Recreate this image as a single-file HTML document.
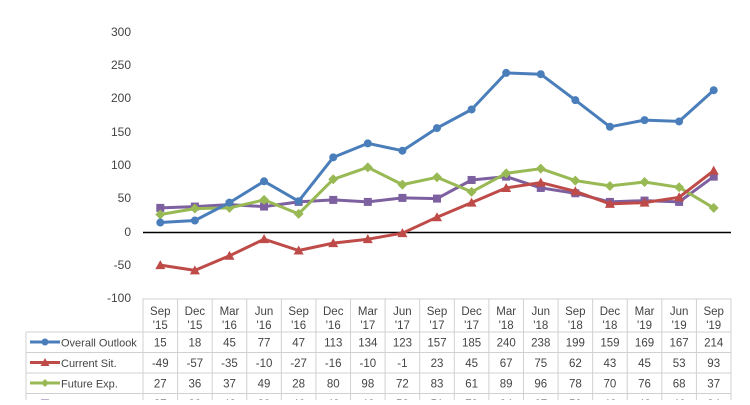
<!DOCTYPE html>
<html><head><style>
body{margin:0;background:#fff;}
svg text{font-family:"Liberation Sans",sans-serif;fill:#444;}
</style></head><body>
<svg width="750" height="400" viewBox="0 0 750 400" xmlns="http://www.w3.org/2000/svg">
<g font-size="12" text-anchor="end">
<text x="131" y="36">300</text>
<text x="131" y="69">250</text>
<text x="131" y="102">200</text>
<text x="131" y="136">150</text>
<text x="131" y="169">100</text>
<text x="131" y="202">50</text>
<text x="131" y="236">0</text>
<text x="131" y="269">-50</text>
<text x="131" y="302">-100</text>
</g>
<line x1="143" y1="232.5" x2="731" y2="232.5" stroke="#000" stroke-width="1.5"/>
<g id="tbl" stroke="#d0d0d0" stroke-width="1" fill="none">
<rect x="143" y="299" width="588" height="110"/>
<line x1="26" y1="332" x2="731" y2="332"/>
<line x1="26" y1="352.5" x2="731" y2="352.5"/>
<line x1="26" y1="373" x2="731" y2="373"/>
<line x1="26" y1="393.5" x2="731" y2="393.5"/>
<line x1="26" y1="332" x2="26" y2="400"/>
</g>
<g id="cols"></g>
<g font-size="11" id="lbl">
<line x1="30" y1="342" x2="60" y2="342" stroke="#4a7ebb" stroke-width="3"/><circle cx="45" cy="342" r="3.5" fill="#4a7ebb"/>
<text x="61" y="346.5">Overall Outlook</text>
<line x1="30" y1="362.5" x2="60" y2="362.5" stroke="#be4b48" stroke-width="3"/><polygon points="45,358 49.5,366 40.5,366" fill="#be4b48"/>
<text x="61" y="367">Current Sit.</text>
<line x1="30" y1="383" x2="60" y2="383" stroke="#98b954" stroke-width="3"/><polygon points="45,379 49,383 45,387 41,383" fill="#98b954"/>
<text x="61" y="387.5">Future Exp.</text>
<line x1="30" y1="403.5" x2="60" y2="403.5" stroke="#7d60a0" stroke-width="3"/><rect x="41" y="399.5" width="8" height="8" fill="#7d60a0"/>
<text x="61" y="408">Purchasing</text>
</g>
<g id="series"></g>
</svg>
<script>
var hdr=[["Sep","'15"],["Dec","'15"],["Mar","'16"],["Jun","'16"],["Sep","'16"],["Dec","'16"],["Mar","'17"],["Jun","'17"],["Sep","'17"],["Dec","'17"],["Mar","'18"],["Jun","'18"],["Sep","'18"],["Dec","'18"],["Mar","'19"],["Jun","'19"],["Sep","'19"]];
var S=[
{c:"#4a7ebb",m:"c",d:[15,18,45,77,47,113,134,123,157,185,240,238,199,159,169,167,214]},
{c:"#be4b48",m:"t",d:[-49,-57,-35,-10,-27,-16,-10,-1,23,45,67,75,62,43,45,53,93]},
{c:"#98b954",m:"d",d:[27,36,37,49,28,80,98,72,83,61,89,96,78,70,76,68,37]},
{c:"#7d60a0",m:"s",d:[37,39,42,39,46,49,46,52,51,79,84,67,59,46,48,46,84]}];
var ns="http://www.w3.org/2000/svg",W=588/17;
function el(t,a,p,tx){var e=document.createElementNS(ns,t);for(var k in a)e.setAttribute(k,a[k]);if(tx!=null)e.textContent=tx;p.appendChild(e);return e;}
var cols=document.getElementById("cols"),ser=document.getElementById("series");
for(var i=0;i<17;i++){var cx=143+W*(i+0.5);
 if(i>0)el("line",{x1:143+W*i,y1:299,x2:143+W*i,y2:400,stroke:"#d0d0d0"},cols);
 el("text",{x:cx,y:315,"font-size":"11.5","text-anchor":"middle"},cols,hdr[i][0]);
 el("text",{x:cx,y:329,"font-size":"11.5","text-anchor":"middle"},cols,hdr[i][1]);
 for(var r=0;r<4;r++)el("text",{x:cx,y:346.5+20.5*r,"font-size":"11.5","text-anchor":"middle"},cols,S[r].d[i]);
}
function Y(v){return 232.5-v*0.665;}
S.slice().reverse().forEach(function(s){
 var pts=s.d.map(function(v,i){return (143+W*(i+0.5)).toFixed(1)+","+Y(v).toFixed(1);}).join(" ");
 el("polyline",{points:pts,fill:"none",stroke:s.c,"stroke-width":3,"stroke-linejoin":"round"},ser);
 s.d.forEach(function(v,i){var x=143+W*(i+0.5),y=Y(v);
  if(s.m=="c")el("circle",{cx:x,cy:y,r:4,fill:s.c},ser);
  else if(s.m=="t")el("polygon",{points:x+","+(y-5)+" "+(x+5)+","+(y+4)+" "+(x-5)+","+(y+4),fill:s.c},ser);
  else if(s.m=="d")el("polygon",{points:x+","+(y-5)+" "+(x+5)+","+y+" "+x+","+(y+5)+" "+(x-5)+","+y,fill:s.c},ser);
  else el("rect",{x:x-4,y:y-4,width:8,height:8,fill:s.c},ser);
 });
});
</script>
</body></html>
